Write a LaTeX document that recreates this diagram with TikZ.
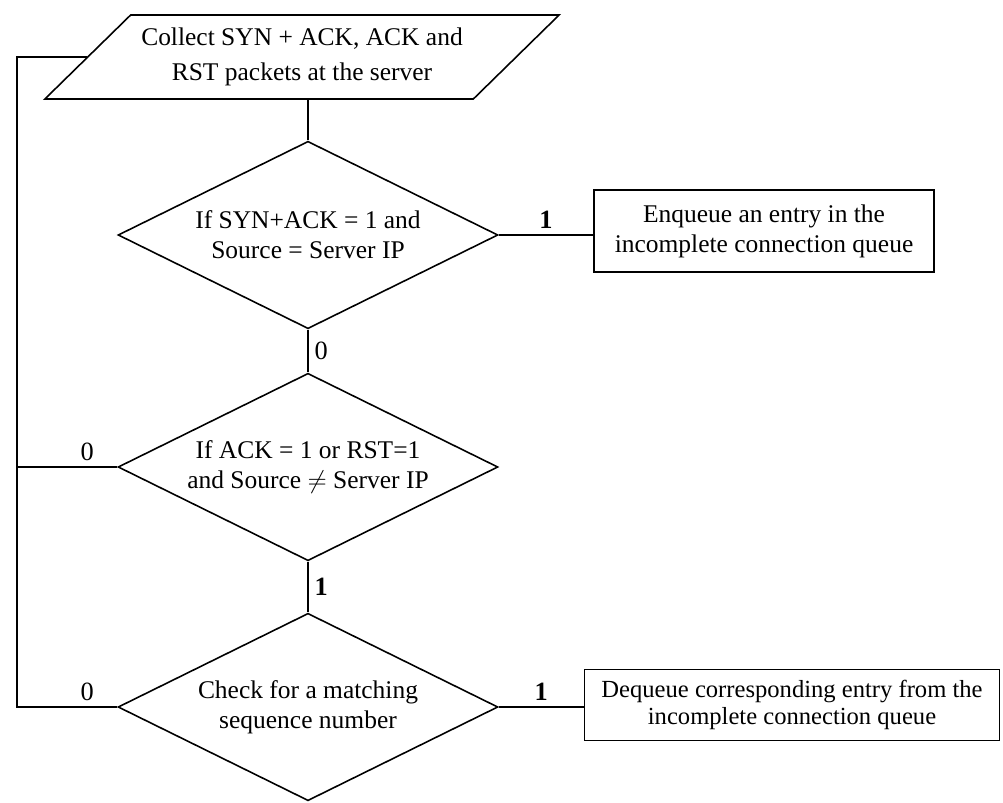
\documentclass[tikz,border=0pt]{standalone}
\usepackage{fontspec}
\setmainfont{Liberation Serif}
\usetikzlibrary{shapes.geometric}
\tikzset{
	decision/.style={draw, diamond, aspect=2, inner sep=0pt, minimum width=7.6cm, minimum height=3.75cm, align=center},
	process/.style={draw, rectangle, align=center, inner sep=2pt},
	branch/.style={font=\fontsize{15}{15}\selectfont},
}
\begin{document}
\begin{tikzpicture}[x=0.02cm, y=-0.02cm, line width=0.9pt, font=\fontsize{14.5}{17}\selectfont]
	\useasboundingbox (0,0) rectangle (1003,803);
	\node[draw, trapezium, trapezium left angle=40, trapezium right angle=140, trapezium stretches=true, minimum width=10.3cm, minimum height=1.68cm, align=center, font=\fontsize{14.5}{20}\selectfont] (collect) at (302,57) {Collect SYN + ACK, ACK and\\RST packets at the server};
	\node[decision] (check1) at (308,235) {If SYN+ACK = 1 and\\Source = Server IP};
	\node[decision] (check2) at (308,467) {If ACK = 1 or RST=1\\and Source $\neq$ Server IP};
	\node[decision] (check3) at (308,707) {Check for a matching\\sequence number};
	\node[process, minimum width=6.8cm, minimum height=1.64cm] (enqueue) at (764,231) {Enqueue an entry in the\\incomplete connection queue};
	\node[process, minimum width=8.3cm, minimum height=1.42cm, font=\fontsize{14}{15}\selectfont] (dequeue) at (792,705) {Dequeue corresponding entry from the\\incomplete connection queue};
	\coordinate (back) at (17,57);

	\draw (check1.north) -- (check1.north |- collect.south);
	\draw (check1.east) -- (check1.east -| enqueue.west) node[branch, midway, above] {\textbf{1}};
	\draw (check1.south) -- (check2.north) node[branch, midway, right] {0};
	\draw (check2.south) -- (check3.north) node[branch, midway, right] {\textbf{1}};
	\draw (check3.east) -- (check3.east -| dequeue.west) node[branch, midway, above] {\textbf{1}};
	\draw (check2.west) -- node[branch, pos=0.3, above] {0} (check2.west -| back);
	\draw (check3.west) -- node[branch, pos=0.3, above] {0} (check3.west -| back) |- (collect.west);
\end{tikzpicture}
\end{document}
